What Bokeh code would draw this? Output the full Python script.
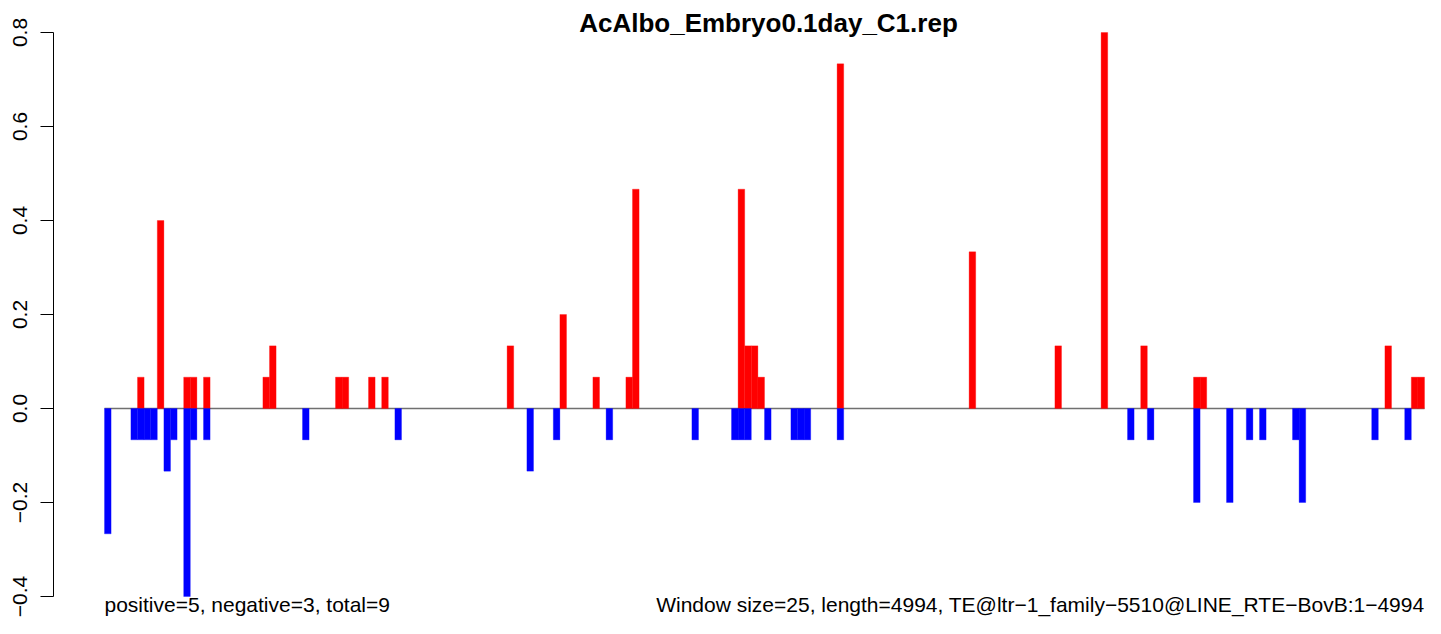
from bokeh.plotting import figure
from bokeh.models import Range1d, FixedTicker, Label
from bokeh.embed import file_html
from bokeh.resources import INLINE

# ---------------- data ----------------
title_text = "AcAlbo_Embryo0.1day_C1.rep"
n_bins = 200  # window size 25 over length 4994

pos_bins = [5, 8, 12, 13, 15, 24, 25, 35, 36, 40, 42, 61, 69, 74, 79, 80,
            96, 97, 98, 99, 111, 131, 144, 151, 157, 165, 166, 194, 198, 199]
pos_vals = [0.0667, 0.4, 0.0667, 0.0667, 0.0667, 0.0667, 0.1333, 0.0667, 0.0667,
            0.0667, 0.0667, 0.1333, 0.2, 0.0667, 0.0667, 0.4667, 0.4667, 0.1333,
            0.1333, 0.0667, 0.7333, 0.3333, 0.1333, 0.8, 0.1333, 0.0667, 0.0667,
            0.1333, 0.0667, 0.0667]

neg_bins = [0, 4, 5, 6, 7, 9, 10, 12, 13, 15, 30, 44, 64, 68, 76, 89, 95, 96, 97,
            100, 104, 105, 106, 111, 155, 158, 165, 170, 173, 175, 180, 181, 192, 197]
neg_vals = [-0.2667, -0.0667, -0.0667, -0.0667, -0.0667, -0.1333, -0.0667, -0.4,
            -0.0667, -0.0667, -0.0667, -0.0667, -0.1333, -0.0667, -0.0667, -0.0667,
            -0.0667, -0.0667, -0.0667, -0.0667, -0.0667, -0.0667, -0.0667, -0.0667,
            -0.0667, -0.0667, -0.2, -0.2, -0.0667, -0.0667, -0.0667, -0.2, -0.0667,
            -0.0667]

y_ticks = [-0.4, -0.2, 0.0, 0.2, 0.4, 0.6, 0.8]
y_tick_labels = ["\u22120.4", "\u22120.2", "0.0", "0.2", "0.4", "0.6", "0.8"]

left_note = "positive=5, negative=3, total=9"
right_note = ("Window size=25, length=4994, "
              "TE@ltr\u22121_family\u22125510@LINE_RTE\u2212BovB:1\u22124994")

FONT = "Liberation Sans"

# ---------------- figure ----------------
p = figure(width=1425, height=618, output_backend="svg", toolbar_location=None,
           title=None,
           x_range=Range1d(-7.727, 200.15), y_range=Range1d(-0.4468, 0.8681),
           x_axis_location=None,
           min_border_left=53, min_border_right=0,
           min_border_top=0, min_border_bottom=0)
p.outline_line_color = None
p.grid.visible = False
p.background_fill_color = "white"
p.border_fill_color = "white"

# zero line (under the bars)
p.segment(x0=[0], y0=[0], x1=[n_bins], y1=[0], line_color="#707070", line_width=1.5)

p.vbar(x=[b + 0.5 for b in pos_bins], width=1, bottom=0, top=pos_vals,
       fill_color="#ff0000", line_color="#ff0000", line_width=0.3)
p.vbar(x=[b + 0.5 for b in neg_bins], width=1, bottom=0, top=neg_vals,
       fill_color="#0000ff", line_color="#0000ff", line_width=0.3)

# y axis in R style
ax = p.yaxis[0]
ax.ticker = FixedTicker(ticks=y_ticks)
ax.bounds = (y_ticks[0], y_ticks[-1])
ax.major_label_overrides = {t: s for t, s in zip(y_ticks, y_tick_labels)}
ax.major_label_orientation = "vertical"
ax.major_label_text_font = FONT
ax.major_label_text_font_size = "21px"
ax.major_label_text_color = "black"
ax.major_tick_out = 13
ax.major_tick_in = 0
ax.minor_tick_out = 0
ax.minor_tick_in = 0
ax.major_label_standoff = 13
ax.axis_line_color = "black"
ax.major_tick_line_color = "black"
ax.axis_line_width = 1

# title
p.add_layout(Label(x=n_bins / 2 + 0.6, y=0.82, text=title_text, text_align="center",
                   text_baseline="alphabetic", text_font=FONT,
                   text_font_style="bold", text_font_size="26px", text_color="black"))

# bottom notes
p.add_layout(Label(x=0, y=-0.417, text=left_note, text_align="left",
                   text_baseline="alphabetic", text_font=FONT,
                   text_font_size="21px", text_color="black"))
p.add_layout(Label(x=n_bins, y=-0.417, text=right_note, text_align="right",
                   text_baseline="alphabetic", text_font=FONT,
                   text_font_size="21px", text_color="black"))

open("out.html", "w").write(file_html(p, INLINE))
